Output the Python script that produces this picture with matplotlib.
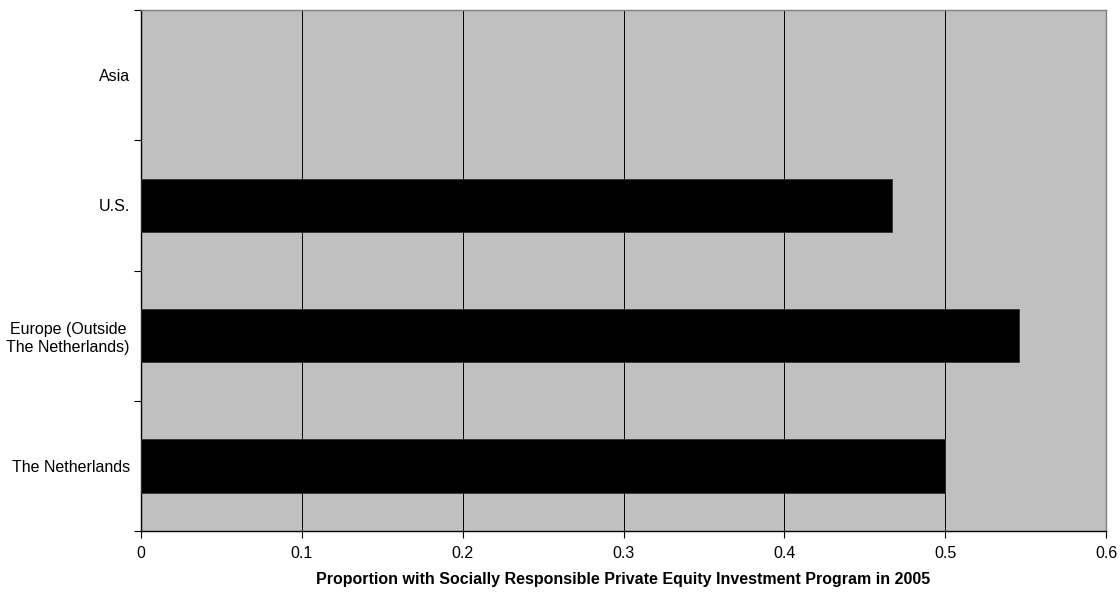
import matplotlib
matplotlib.use("Agg")
import matplotlib.pyplot as plt

# bottom to top
regions = ["The Netherlands", "Europe (Outside\nThe Netherlands)", "U.S.", "Asia"]
proportions = [0.500, 0.546, 0.467, 0.0]
x_ticks = [0, 0.1, 0.2, 0.3, 0.4, 0.5, 0.6]
x_ticklabels = ["0", "0.1", "0.2", "0.3", "0.4", "0.5", "0.6"]

plt.rcParams["font.family"] = ["Liberation Sans", "DejaVu Sans"]
FS = 11.5

fig = plt.figure(figsize=(11.2, 5.99), dpi=100)
ax = fig.add_axes([141 / 1120, 1 - 531 / 599, (1106 - 141) / 1120, (531 - 10) / 599])
ax.set_facecolor("#c0c0c0")

ypos = range(len(regions))
bars = ax.barh(ypos, proportions, height=0.41, color="black", edgecolor="#333333", linewidth=0.6, zorder=3)
for bar, v in zip(bars, proportions):
    if v == 0:
        bar.set_linewidth(0)

ax.set_xlim(0, 0.6)
ax.set_ylim(-0.5, len(regions) - 0.5)
ax.set_xticks(x_ticks)
ax.set_xticklabels(x_ticklabels, fontsize=FS)
ax.xaxis.grid(True, color="black", linewidth=0.7, zorder=1)
ax.set_axisbelow(True)

# labels centred on bars, tick marks on category boundaries
ax.set_yticks(list(ypos))
ax.set_yticklabels(regions, fontsize=FS, multialignment="center")
ax.tick_params(axis="y", which="major", length=0, pad=8)
ax.set_yticks([i - 0.5 for i in range(len(regions) + 1)], minor=True)
ax.tick_params(axis="y", which="minor", length=5, width=0.8)
ax.tick_params(axis="x", length=5, width=0.8, pad=6)

ax.spines["left"].set_color("black")
ax.spines["bottom"].set_color("black")
ax.spines["top"].set_color("#808080")
ax.spines["right"].set_color("#808080")
for s in ax.spines.values():
    s.set_linewidth(1.0)

ax.set_xlabel("Proportion with Socially Responsible Private Equity Investment Program in 2005",
              fontsize=FS, fontweight="bold", labelpad=8)

fig.savefig("out.png", dpi=100)
